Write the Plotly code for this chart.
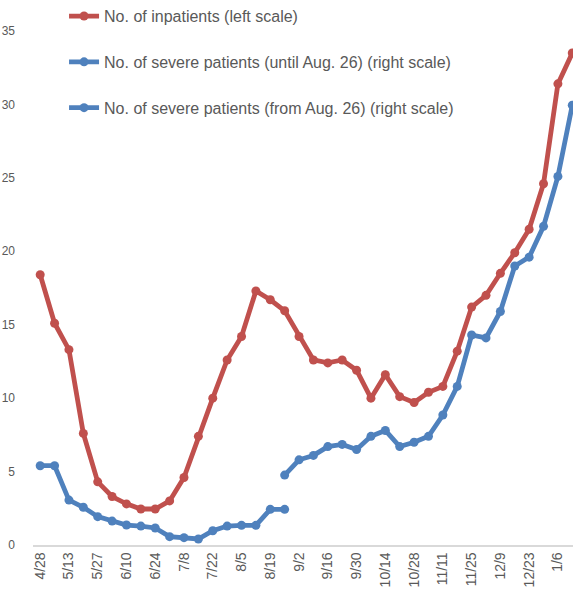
import plotly.graph_objects as go

# weekly categories (only every other one is labelled on the axis)
weeks = ["4/28", "5/6", "5/13", "5/20", "5/27", "6/3", "6/10", "6/17", "6/24", "7/1",
         "7/8", "7/15", "7/22", "7/29", "8/5", "8/12", "8/19", "8/26", "9/2", "9/9",
         "9/16", "9/23", "9/30", "10/7", "10/14", "10/21", "10/28", "11/4", "11/11", "11/18",
         "11/25", "12/2", "12/9", "12/16", "12/23", "12/30", "1/6", "1/13"]
tick_weeks = weeks[::2]

inpatients = [18.4, 15.1, 13.3, 7.6, 4.3, 3.3, 2.8, 2.45, 2.45, 3.0,
              4.6, 7.4, 10.0, 12.6, 14.2, 17.3, 16.7, 15.95, 14.2, 12.6,
              12.4, 12.6, 11.9, 10.0, 11.6, 10.1, 9.7, 10.4, 10.8, 13.2,
              16.2, 17.0, 18.5, 19.9, 21.5, 24.6, 31.4, 33.5]

severe_until = [5.4, 5.4, 3.06, 2.57, 1.93, 1.63, 1.36, 1.29, 1.16, 0.57,
                0.5, 0.41, 0.97, 1.29, 1.34, 1.34, 2.43, 2.43]

severe_from = [4.76, 5.8, 6.1, 6.7, 6.85, 6.5, 7.4, 7.8, 6.7, 7.0,
               7.4, 8.85, 10.8, 14.3, 14.1, 15.9, 19.0, 19.6, 21.7, 25.1, 29.95]

RED = "#C0504D"
BLUE = "#4F81BD"
GREY = "#595959"

fig = go.Figure()
fig.add_trace(go.Scatter(
    x=weeks, y=inpatients, mode="lines+markers", name="No. of inpatients (left scale)",
    line=dict(color=RED, width=4.8), marker=dict(size=9, color=RED), legendgroup="a"))
fig.add_trace(go.Scatter(
    x=weeks[:len(severe_until)], y=severe_until, mode="lines+markers",
    name="No. of severe patients (until Aug. 26) (right scale)",
    line=dict(color=BLUE, width=4.8), marker=dict(size=9, color=BLUE), legendgroup="b"))
fig.add_trace(go.Scatter(
    x=weeks[len(weeks) - len(severe_from):], y=severe_from, mode="lines+markers",
    name="No. of severe patients (from Aug. 26) (right scale)",
    line=dict(color=BLUE, width=4.8), marker=dict(size=9, color=BLUE), legendgroup="c"))

fig.update_layout(
    width=573, height=592,
    margin=dict(l=33, r=0, t=31, b=47, autoexpand=False),
    paper_bgcolor="white", plot_bgcolor="white",
    font=dict(family="Liberation Sans, Arial, sans-serif", color=GREY),
    legend=dict(x=0.0575, y=1.062, xanchor="left", yanchor="top",
                font=dict(size=16, color=GREY), tracegroupgap=22,
                bgcolor="rgba(0,0,0,0)"),
    xaxis=dict(type="category", categoryorder="array", categoryarray=weeks,
               range=[-0.5, 37.05], tickmode="array", tickvals=tick_weeks,
               tickangle=-90, tickfont=dict(size=14, color=GREY), automargin=False,
               showgrid=False, zeroline=False, showline=True,
               linecolor="#D9D9D9", linewidth=1.5, ticks=""),
    yaxis=dict(range=[0, 35], dtick=5, showgrid=False, zeroline=False, automargin=False,
               showline=False, ticks="", tickfont=dict(size=12, color=GREY),
               ticklabelstandoff=17),
)

# drop the default 8px body margin so the figure fills the window exactly
fig.write_html("out.html", config={"displayModeBar": False},
               post_script="document.body.style.margin = '0';")
